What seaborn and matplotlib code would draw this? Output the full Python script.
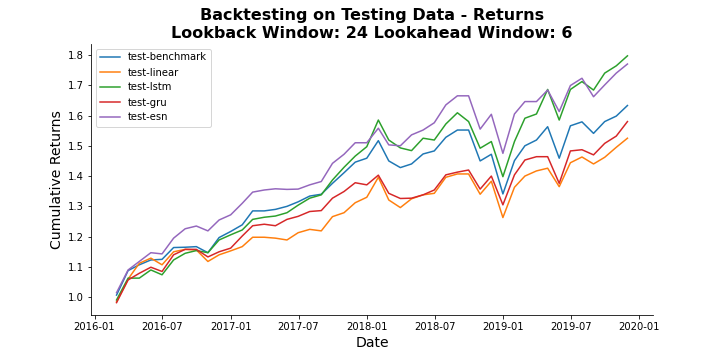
import pandas as pd
import matplotlib
matplotlib.use("Agg")
import matplotlib.pyplot as plt
import seaborn as sns

# Month-end dates of the testing window
dates = pd.date_range("2016-02-29", periods=46, freq="ME")

benchmark = [1.007, 1.088, 1.107, 1.123, 1.125, 1.164, 1.165, 1.167, 1.147, 1.197,
             1.217, 1.239, 1.285, 1.285, 1.290, 1.300, 1.315, 1.334, 1.340, 1.376,
             1.411, 1.446, 1.459, 1.517, 1.450, 1.428, 1.440, 1.473, 1.483, 1.528,
             1.552, 1.552, 1.450, 1.472, 1.341, 1.451, 1.500, 1.519, 1.563, 1.459,
             1.566, 1.579, 1.541, 1.580, 1.598, 1.633]
linear = [0.985, 1.060, 1.112, 1.129, 1.107, 1.150, 1.158, 1.156, 1.118, 1.140,
          1.153, 1.167, 1.198, 1.198, 1.195, 1.189, 1.213, 1.224, 1.219, 1.266,
          1.279, 1.312, 1.330, 1.396, 1.321, 1.296, 1.325, 1.338, 1.343, 1.396,
          1.407, 1.407, 1.340, 1.383, 1.263, 1.363, 1.400, 1.417, 1.426, 1.365,
          1.444, 1.463, 1.440, 1.462, 1.495, 1.525]
lstm = [0.991, 1.063, 1.063, 1.090, 1.074, 1.123, 1.145, 1.154, 1.147, 1.189,
        1.206, 1.222, 1.257, 1.264, 1.268, 1.279, 1.304, 1.327, 1.338, 1.387,
        1.429, 1.466, 1.497, 1.585, 1.519, 1.493, 1.484, 1.525, 1.519, 1.572,
        1.609, 1.580, 1.492, 1.514, 1.398, 1.514, 1.591, 1.605, 1.686, 1.585,
        1.686, 1.712, 1.684, 1.740, 1.764, 1.797]
gru = [0.982, 1.057, 1.079, 1.099, 1.085, 1.140, 1.158, 1.158, 1.133, 1.150,
       1.162, 1.202, 1.236, 1.241, 1.236, 1.257, 1.267, 1.283, 1.286, 1.327,
       1.349, 1.378, 1.371, 1.403, 1.343, 1.326, 1.327, 1.338, 1.354, 1.404,
       1.413, 1.420, 1.357, 1.400, 1.305, 1.404, 1.453, 1.464, 1.464, 1.376,
       1.483, 1.487, 1.470, 1.508, 1.532, 1.580]
esn = [1.015, 1.090, 1.118, 1.147, 1.143, 1.195, 1.226, 1.235, 1.219, 1.255,
       1.272, 1.310, 1.347, 1.354, 1.358, 1.356, 1.357, 1.371, 1.382, 1.442,
       1.472, 1.510, 1.510, 1.558, 1.503, 1.500, 1.536, 1.552, 1.576, 1.635,
       1.665, 1.665, 1.555, 1.604, 1.475, 1.605, 1.646, 1.646, 1.684, 1.613,
       1.699, 1.723, 1.662, 1.701, 1.740, 1.770]

df = pd.DataFrame({
    "test-benchmark": benchmark,
    "test-linear": linear,
    "test-lstm": lstm,
    "test-gru": gru,
    "test-esn": esn,
}, index=dates)

fig = plt.figure(figsize=(10, 5), dpi=72)
ax = fig.add_axes([91 / 720, 1 - 315 / 360, (653 - 91) / 720, (315 - 43.5) / 360])

sns.lineplot(data=df, dashes=False, palette="tab10", linewidth=1.5, ax=ax)
sns.despine(ax=ax)

ax.set_title("Backtesting on Testing Data - Returns\nLookback Window: 24 Lookahead Window: 6",
             fontsize=16, fontweight="bold")
ax.set_xlabel("Date", fontsize=14)
ax.set_ylabel("Cumulative Returns", fontsize=14)
ax.tick_params(labelsize=10)
ax.legend(loc="upper left", fontsize=10)

fig.savefig("out.png", dpi=72)
